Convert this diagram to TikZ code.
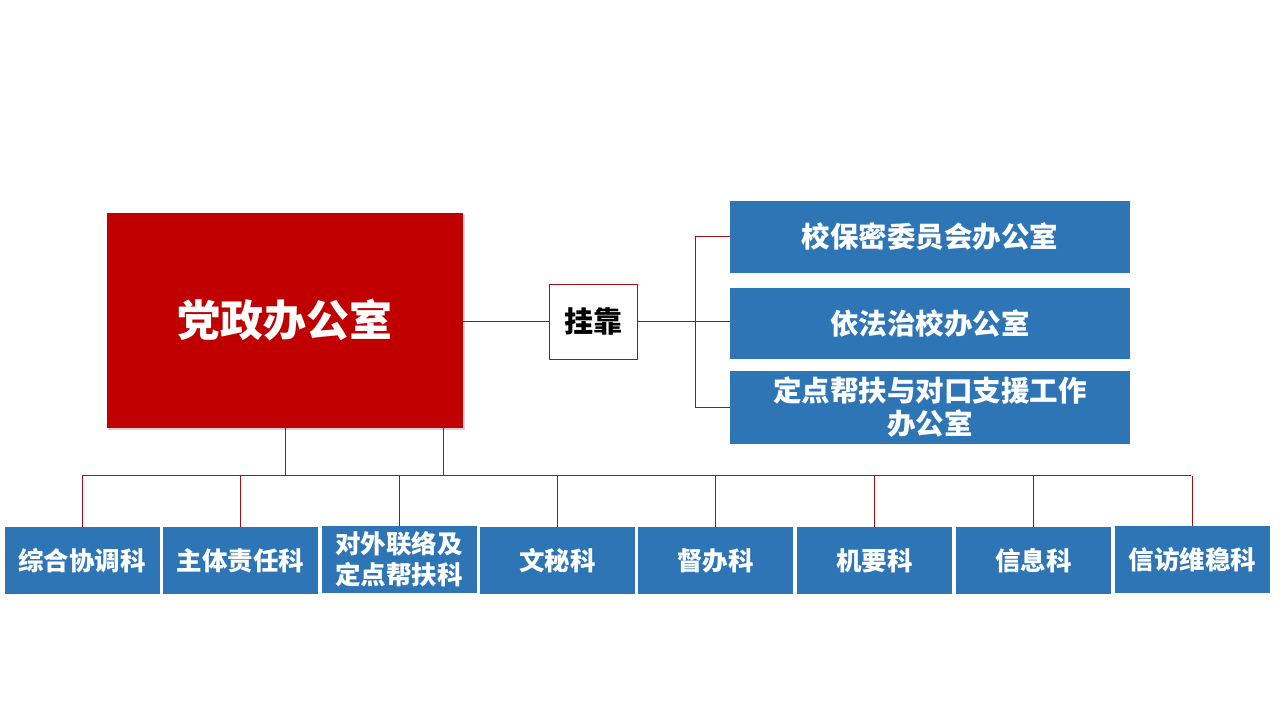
\documentclass[tikz,border=0pt]{standalone}
\usepackage{fontspec}
\setmainfont{Noto Sans CJK SC}
\usetikzlibrary{shadows}
\definecolor{partyred}{HTML}{C00000}
\definecolor{linered}{HTML}{A50F15}
\definecolor{boxblue}{HTML}{2E75B6}
\tikzset{
  conn/.style={draw=linered, line width=1pt},
  bluebox/.style={fill=boxblue, text=white, inner sep=0pt, align=center, font=\bfseries\fontsize{28.5}{33}\selectfont},
  deptbox/.style={bluebox, minimum width=155pt, minimum height=67pt, font=\bfseries\fontsize{25.5}{31}\selectfont},
  sidebox/.style={bluebox, minimum width=400pt},
}
\begin{document}
\begin{tikzpicture}[x=1pt, y=1pt]
\useasboundingbox (0,0) rectangle (1280,720);
% main office
\node[fill=partyred, text=white, minimum width=356pt, minimum height=215pt, inner sep=0pt,
      drop shadow={shadow xshift=2pt, shadow yshift=-2pt, opacity=0.35},
      font=\bfseries\fontsize{43}{48}\selectfont] (main) at (285,399.5) {党政办公室};
% hook box
\node[draw=linered, line width=0.8pt, fill=white, minimum width=88pt, minimum height=75pt, inner sep=0pt,
      font=\bfseries\fontsize{29}{32}\selectfont] (hook) at (593,398.5) {挂靠};
% right offices
\node[sidebox, minimum height=72pt] (r1) at (930,483) {校保密委员会办公室};
\node[sidebox, minimum height=71pt] (r2) at (930,396.5) {依法治校办公室};
\node[sidebox, minimum height=73pt] (r3) at (930,312.5) {定点帮扶与对口支援工作\\办公室};
% departments
\node[deptbox] (b1) at (82,159.5) {综合协调科};
\node[deptbox] (b2) at (240.5,159.5) {主体责任科};
\node[deptbox] (b3) at (399,160.5) {对外联络及\\定点帮扶科};
\node[deptbox] (b4) at (557.5,159.5) {文秘科};
\node[deptbox] (b5) at (715.5,159.5) {督办科};
\node[deptbox] (b6) at (874.5,159.5) {机要科};
\node[deptbox] (b7) at (1033.5,159.5) {信息科};
\node[deptbox] (b8) at (1192.5,160.5) {信访维稳科};
% connectors: main -> hook -> right offices
\draw[conn] (main.east |- hook.west) -- (hook.west);
\coordinate (bx) at (695,396.5);
\draw[conn] (hook.east) -- (hook.east -| r2.west);
\draw[conn] (r1.west) -- (r1.west -| bx) -- (r3.west -| bx) -- (r3.west);
% bus
\coordinate (busL) at (82,244);
\coordinate (busR) at (1191,244);
\draw[conn] (busL) -- (busR);
\draw[conn] (main.south) -- (main.south |- busL);
\draw[conn] ([xshift=-20pt]main.south east) -- ([xshift=-20pt]main.south east |- busL);
\foreach \n in {b1,b2,b3,b4,b5,b6,b7,b8}{
  \draw[conn] (\n.north) -- (\n.north |- busL);
}
\end{tikzpicture}
\end{document}
